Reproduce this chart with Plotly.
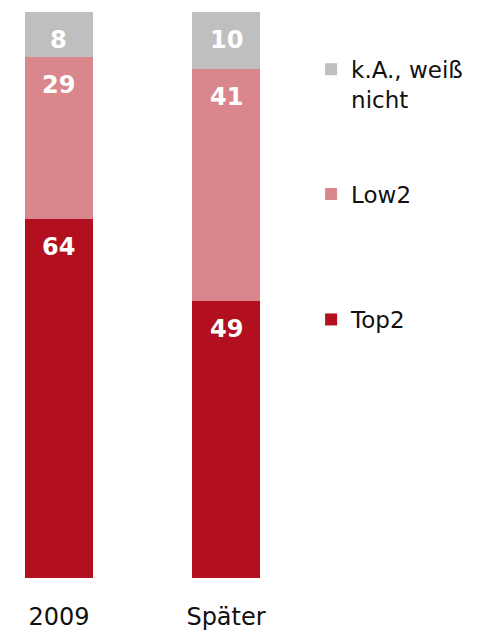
import plotly.graph_objects as go

categories = ["2009", "Später"]
series_names = ["Top2", "Low2", "k.A., weiß<br>nicht"]
top2 = [64, 49]
low2 = [29, 41]
ka = [8, 10]
colors = ["#B2101F", "#D9868C", "#BFBFBF"]

series_values = [top2, low2, ka]
legend_ids = ["legend3", "legend2", "legend"]

fig = go.Figure()
for name, vals, col, lg in zip(series_names, series_values, colors, legend_ids):
    fig.add_trace(go.Bar(x=categories, y=vals, name=name, marker_color=col,
                         marker_line_width=0, legend=lg, showlegend=True,
                         hoverinfo="skip"))

# value labels, placed just below the top of each segment
annotations = []
for i, cat in enumerate(categories):
    total = sum(v[i] for v in series_values)
    cum = 0
    for vals in series_values:
        cum += vals[i]
        annotations.append(dict(x=i, y=cum / total * 100, text=f"<b>{vals[i]}</b>",
                                showarrow=False, yanchor="top", yshift=-12,
                                font=dict(size=24, color="white", family="DejaVu Sans")))

legend_font = dict(size=23, color="#111111", family="DejaVu Sans")
fig.update_layout(
    width=471, height=623,
    showlegend=True,
    barmode="stack", barnorm="percent", bargap=0.593,
    plot_bgcolor="white", paper_bgcolor="white",
    margin=dict(l=0, r=179, t=4, b=51),
    xaxis=dict(type="category", range=[-0.305, 1.443], showline=False, showgrid=False,
               ticks="", tickfont=dict(size=24, color="#111111", family="DejaVu Sans"),
               ticklabelstandoff=22),
    yaxis=dict(range=[0, 100], visible=False),
    annotations=annotations,
    legend=dict(visible=True, x=1.038, y=(572 - 40) / 568, yanchor="top", xanchor="left",
                font=legend_font, valign="top", bgcolor="rgba(0,0,0,0)"),
    legend2=dict(x=1.038, y=(572 - 165) / 568, yanchor="top", xanchor="left",
                 font=legend_font, bgcolor="rgba(0,0,0,0)"),
    legend3=dict(x=1.038, y=(572 - 291) / 568, yanchor="top", xanchor="left",
                 font=legend_font, bgcolor="rgba(0,0,0,0)"),
)

fig.write_html("out.html")
